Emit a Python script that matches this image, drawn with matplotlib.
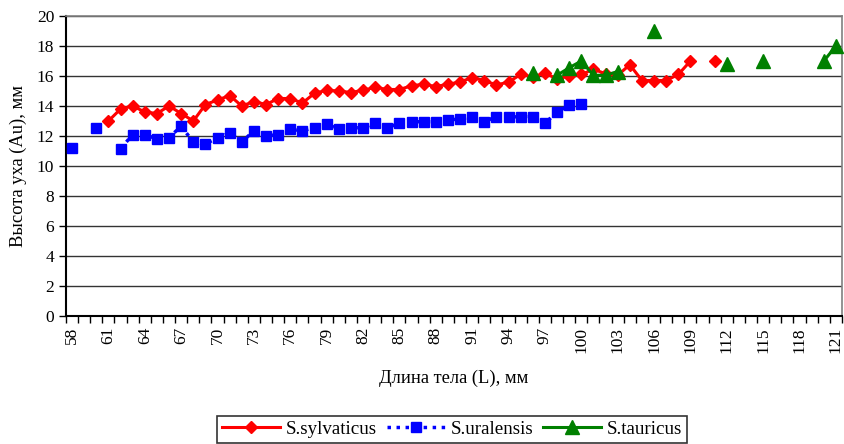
import numpy as np
import matplotlib
matplotlib.use("Agg")
import matplotlib.pyplot as plt
from matplotlib.ticker import FixedLocator

plt.rcParams['font.family'] = ['Liberation Serif', 'DejaVu Serif']

categories = [str(v) for v in range(58, 122)]
n = None
sylvaticus = [n, n, n, 13.0, 13.8, 14.0, 13.6, 13.5, 14.0, 13.5,
              13.0, 14.1, 14.4, 14.7, 14.0, 14.3, 14.1, 14.5, 14.5, 14.2,
              14.85, 15.05, 15.0, 14.9, 15.05, 15.25, 15.1, 15.1, 15.35, 15.45,
              15.3, 15.45, 15.6, 15.9, 15.7, 15.4, 15.6, 16.1, 15.95, 16.2,
              15.8, 16.0, 16.1, 16.45, 16.15, 16.05, 16.75, 15.7, 15.7, 15.7,
              16.1, 17.0, n, 17.0, n, n, n, n, n, n,
              n, n, n, n]
uralensis = [11.2, n, 12.55, n, 11.15, 12.1, 12.1, 11.8, 11.9, 12.65,
             11.6, 11.45, 11.9, 12.2, 11.6, 12.35, 12.0, 12.1, 12.45, 12.35,
             12.55, 12.8, 12.45, 12.55, 12.55, 12.85, 12.55, 12.85, 12.95, 12.95,
             12.95, 13.05, 13.15, 13.25, 12.95, 13.3, 13.25, 13.3, 13.3, 12.85,
             13.6, 14.05, 14.15, n, n, n, n, n, n, n,
             n, n, n, n, n, n, n, n, n, n,
             n, n, n, n]
tauricus = [n] * 38 + [16.2, n, 16.05, 16.55, 17.0, 16.05, 16.05, 16.3, n, n,
                       19.0, n, n, n, n, n, 16.8, n, n, 17.0,
                       n, n, n, n, 17.0, 18.0]

def arr(v):
    return np.array([np.nan if x is None else x for x in v], dtype=float)

x = np.arange(len(categories))

fig = plt.figure(figsize=(8.45, 4.44), dpi=100)
ax = fig.add_axes([66/845, 1-316/444, (842-66)/845, 300/444])

ax.plot(x, arr(sylvaticus), color='#ff0000', lw=2.2, marker='D', ms=6,
        mec='#ff0000', mfc='#ff0000', label='S.sylvaticus', zorder=3)
ax.plot(x, arr(uralensis), color='#0000ff', lw=2.5, ls=(0, (1, 1.6)), marker='s', ms=7,
        mec='#0000ff', mfc='#0000ff', label='S.uralensis', zorder=3)
ax.plot(x, arr(tauricus), color='#008000', lw=2.2, marker='^', ms=10,
        mec='#008000', mfc='#008000', label='S.tauricus', zorder=4, clip_on=False)

ax.set_xlim(-0.5, len(categories) - 0.5)
ax.set_ylim(0, 20)
ax.set_yticks(np.arange(0, 21, 2))
ax.yaxis.grid(True, color='#333333', lw=1.0)
ax.set_axisbelow(True)

ax.xaxis.set_major_locator(FixedLocator(x[::3]))
ax.set_xticklabels(categories[::3], rotation=90, fontsize=12.5)
ax.xaxis.set_minor_locator(FixedLocator(np.arange(-0.5, len(categories), 1)))
ax.tick_params(axis='x', which='major', length=0, pad=8)
ax.tick_params(axis='x', which='minor', length=5, width=1, color='black')
ax.tick_params(axis='y', labelsize=12.5, length=5, width=1)

for s in ['left', 'bottom']:
    ax.spines[s].set_color('black')
    ax.spines[s].set_linewidth(1.5)
for s in ['top', 'right']:
    ax.spines[s].set_color('#808080')
    ax.spines[s].set_linewidth(1.2)

ax.set_ylabel('Высота уха (Au), мм', fontsize=13.3, labelpad=7)
ax.set_xlabel('Длина тела (L), мм', fontsize=13.3, labelpad=12)

leg = fig.legend(loc='upper center', bbox_to_anchor=(452/845, 1-416/444), ncol=3,
                 fontsize=13.7, frameon=True, fancybox=False, edgecolor='black',
                 handlelength=3.05, columnspacing=0.5, handletextpad=0.3,
                 borderpad=0.25, borderaxespad=0)
leg.get_frame().set_linewidth(1.2)

fig.savefig('out.png', dpi=100)
